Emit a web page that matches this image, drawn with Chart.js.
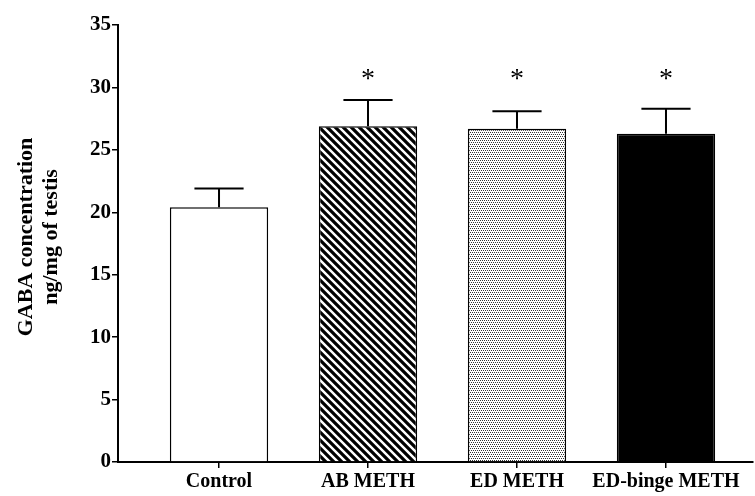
<!DOCTYPE html>
<html>
<head>
<meta charset="utf-8">
<script src="https://cdn.jsdelivr.net/npm/chart.js@4.4.1/dist/chart.umd.min.js"></script>
<style>
  html, body { margin: 0; padding: 0; background: #fff; }
  #wrap { width: 755px; height: 496px; }
</style>
</head>
<body>
<div id="wrap"><canvas id="gabaChart" width="755" height="496"></canvas></div>
<script>
// values
const groups = ['Control', 'AB METH', 'ED METH', 'ED-binge METH'];
const gabaMean = [20.4, 26.9, 26.7, 26.3];
const gabaSem = [1.5, 2.1, 1.4, 2.0];
const signif = ['', '*', '*', '*'];
const yTicks = [0, 5, 10, 15, 20, 25, 30, 35];
const yTitle = ['GABA concentration', 'ng/mg of testis'];
const starLevel = 31;

const serif = '"Liberation Serif", "Times New Roman", serif';

// --- fills for the bars ---
function hatchPattern(ctx) {
  const c = document.createElement('canvas');
  c.width = 8; c.height = 8;
  const g = c.getContext('2d');
  g.fillStyle = '#fff';
  g.fillRect(0, 0, 8, 8);
  g.strokeStyle = '#000';
  g.lineWidth = 3.2;
  g.beginPath();
  for (let k = -1; k <= 1; k++) {
    g.moveTo(8 * k - 2, -2);
    g.lineTo(8 * k + 10, 10);
  }
  g.stroke();
  return ctx.createPattern(c, 'repeat');
}

function stipplePattern(ctx) {
  const c = document.createElement('canvas');
  c.width = 4; c.height = 4;
  const g = c.getContext('2d');
  g.fillStyle = '#fff';
  g.fillRect(0, 0, 4, 4);
  g.fillStyle = '#333';
  [[0, 0], [2, 0], [1, 2], [3, 2]].forEach(p => g.fillRect(p[0], p[1], 1, 1));
  return ctx.createPattern(c, 'repeat');
}

const canvas = document.getElementById('gabaChart');
const ctx2d = canvas.getContext('2d');
const barFills = ['#ffffff', hatchPattern(ctx2d), stipplePattern(ctx2d), '#000000'];

// error bars (upper only) + significance stars
const errorBarPlugin = {
  id: 'errorBars',
  afterDatasetsDraw(chart) {
    const ctx = chart.ctx;
    const y = chart.scales.y;
    const bars = chart.getDatasetMeta(0).data;
    ctx.save();
    ctx.strokeStyle = '#000';
    ctx.lineWidth = 2;
    bars.forEach((bar, i) => {
      const top = y.getPixelForValue(gabaMean[i] + gabaSem[i]);
      const half = bar.width / 4;
      ctx.beginPath();
      ctx.moveTo(bar.x, bar.y);
      ctx.lineTo(bar.x, top);
      ctx.moveTo(bar.x - half, top);
      ctx.lineTo(bar.x + half, top);
      ctx.stroke();

      if (signif[i]) {
        ctx.font = '28px ' + serif;
        ctx.fillStyle = '#000';
        ctx.textAlign = 'center';
        ctx.textBaseline = 'alphabetic';
        const m = ctx.measureText(signif[i]);
        const cy = y.getPixelForValue(starLevel);
        const off = (m.actualBoundingBoxAscent - m.actualBoundingBoxDescent) / 2;
        ctx.fillText(signif[i], bar.x, cy + off);
      }
    });
    ctx.restore();
  }
};

// two-line rotated y title
const yTitlePlugin = {
  id: 'yTitle',
  afterDraw(chart) {
    const ctx = chart.ctx;
    const area = chart.chartArea;
    const cy = area.top + (area.bottom - area.top) * 0.485;
    const baselines = [32, 57];
    ctx.save();
    ctx.font = 'bold 22px ' + serif;
    ctx.fillStyle = '#000';
    ctx.textAlign = 'center';
    ctx.textBaseline = 'alphabetic';
    yTitle.forEach((line, i) => {
      ctx.save();
      ctx.translate(baselines[i], cy);
      ctx.rotate(-Math.PI / 2);
      ctx.fillText(line, 0, 0);
      ctx.restore();
    });
    ctx.restore();
  }
};

new Chart(canvas, {
  type: 'bar',
  data: {
    datasets: [{
      data: groups.map((g, i) => ({ x: i + 1, y: gabaMean[i] })),
      backgroundColor: barFills,
      borderColor: '#000',
      borderWidth: 1.5,
      borderSkipped: 'bottom',
      barPercentage: 0.66,
      categoryPercentage: 1
    }]
  },
  options: {
    responsive: false,
    animation: false,
    layout: { padding: { top: 25, right: 2, left: 0, bottom: 0 } },
    plugins: {
      legend: { display: false },
      tooltip: { enabled: false }
    },
    scales: {
      x: {
        type: 'linear',
        offset: false,
        min: 0.322,
        max: 4.584,
        afterBuildTicks: s => { s.ticks = groups.map((g, i) => ({ value: i + 1 })); },
        afterFit: s => { s.height = 34; },
        ticks: {
          callback: v => groups[Math.round(v) - 1],
          font: { family: serif, size: 20, weight: 'bold' },
          color: '#000',
          padding: 2,
          maxRotation: 0,
          autoSkip: false
        },
        grid: { offset: false, drawOnChartArea: false, drawTicks: true, tickLength: 6, color: '#000', lineWidth: 1.5 },
        border: { color: '#000', width: 2 }
      },
      y: {
        min: 0,
        max: 35,
        afterBuildTicks: s => { s.ticks = yTicks.map(v => ({ value: v })); },
        afterFit: s => { s.width = 118; },
        ticks: {
          font: { family: serif, size: 21, weight: 'bold' },
          color: '#000',
          padding: 1
        },
        grid: { drawOnChartArea: false, drawTicks: true, tickLength: 6, color: '#000', lineWidth: 1.5 },
        border: { color: '#000', width: 2 }
      }
    }
  },
  plugins: [errorBarPlugin, yTitlePlugin]
});
</script>
</body>
</html>
